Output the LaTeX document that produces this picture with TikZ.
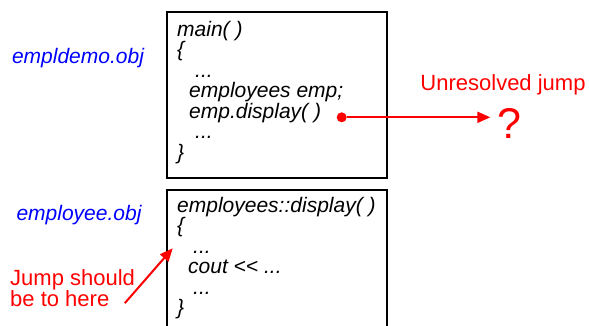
\documentclass[tikz,border=0pt]{standalone}
\usepackage{fontspec}
\setmainfont{Liberation Sans}[Ligatures=TeXOff]
\usetikzlibrary{arrows.meta, positioning}
\usepackage{xcolor}
\definecolor{objBlue}{RGB}{0,0,255}
\definecolor{jumpRed}{RGB}{255,0,0}

\begin{document}
\begin{tikzpicture}[x=1pt, y=-1pt,
    codebox/.style={rectangle, draw, line width=2pt, anchor=north west, inner sep=0pt, minimum width=220pt},
    code/.style={anchor=base west, align=left, inner sep=0pt, font=\fontsize{21}{20.5}\selectfont\itshape},
    objname/.style={anchor=base, inner sep=0pt, text=objBlue, font=\fontsize{21}{24}\selectfont\itshape},
    note/.style={inner sep=0pt, text=jumpRed, align=left, font=\fontsize{22}{21}\selectfont},
    jump/.style={draw=jumpRed, line width=2pt, -{Triangle[length=13pt,width=11pt]}}
]
\clip (0,0) rectangle (589,325);

% object files
\node[objname] (demoobj) at (78,63) {empldemo.obj};
\node[objname] (empobj) at (79,220) {employee.obj};

% code in each object file (base is the last line)
\node[codebox, minimum height=166pt] (mainbox) at (166,11) {};
\node[code] (maincode) at (177,159) {main( )\\\{\\\hspace{18pt}...\\\hspace{12pt}employees emp;\\\hspace{12pt}emp.display( )\\\hspace{18pt}...\\\}};
\node[codebox, minimum height=160pt] (dispbox) at (166,189) {};
\node[code] (dispcode) at (177,314.5) {employees::display( )\\\{\\\hspace{16pt}...\\\hspace{11pt}cout << ...\\\hspace{16pt}...\\\}};

% the unresolved call
\node[circle, fill=jumpRed, inner sep=0pt, minimum size=10pt] (calldot) at (341.7,117.3) {};
\node[note, anchor=base] (unres) at (503,90) {Unresolved jump};
\node[note, anchor=base, font=\fontsize{43}{43}\selectfont] (qmark) at (509.5,138) {?};
\draw[jump, shorten >=7pt] (calldot) -- (calldot -| qmark.west);

% where it ought to go
\node[note, anchor=base west] (jumpnote) at (10,306) {Jump should\\be to here};
\coordinate (jumptarget) at (172.7,248.3);
\draw[jump] ([shift={(-10.3,-3.3)}]jumpnote.south east) -- (jumptarget);
\end{tikzpicture}
\end{document}
